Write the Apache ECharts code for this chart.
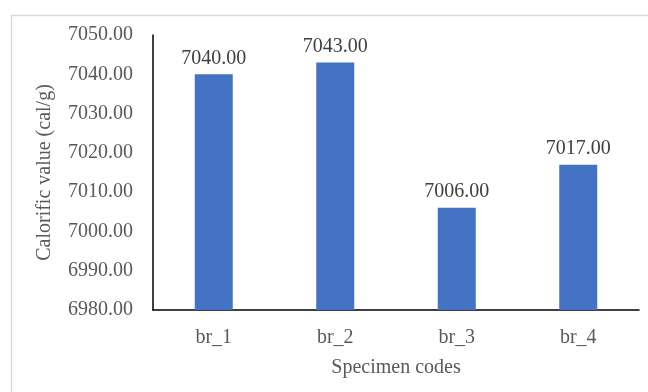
<!DOCTYPE html>
<html>
<head>
<meta charset="utf-8">
<script src="https://cdn.jsdelivr.net/npm/echarts@6/dist/echarts.min.js"></script>
<style>
  html, body { margin: 0; padding: 0; background: #fff; }
  #chart { width: 648px; height: 392px; }
</style>
</head>
<body>
<div id="chart"></div>
<script>
// Specimen codes and their calorific values (cal/g)
const categories = ['br_1', 'br_2', 'br_3', 'br_4'];
const calorificValues = [7040, 7043, 7006, 7017];
const yTicks = { min: 6980, max: 7050, step: 10 };

const serif = '"Liberation Serif", "Times New Roman", serif';
const chart = echarts.init(document.getElementById('chart'));

chart.setOption({
  animation: false,
  backgroundColor: '#ffffff',
  graphic: [{
    type: 'rect',
    shape: { x: 11.5, y: 15.5, width: 700, height: 400 },
    style: { fill: 'none', stroke: '#d9d9d9', lineWidth: 1.5 },
    silent: true
  }],
  grid: { left: 153, top: 35, right: 9, bottom: 82 },
  xAxis: {
    type: 'category',
    data: categories,
    name: 'Specimen codes',
    nameLocation: 'middle',
    nameGap: 48,
    nameTextStyle: { fontFamily: serif, fontSize: 20, color: '#595959' },
    axisLine: { lineStyle: { color: '#000', width: 1.5 } },
    axisTick: { show: false },
    axisLabel: { fontFamily: serif, fontSize: 20, color: '#595959', margin: 18 }
  },
  yAxis: {
    type: 'value',
    min: yTicks.min,
    max: yTicks.max,
    interval: yTicks.step,
    name: 'Calorific value (cal/g)',
    nameLocation: 'middle',
    nameGap: 98,
    nameTextStyle: { fontFamily: serif, fontSize: 20, color: '#595959' },
    axisLine: { show: true, lineStyle: { color: '#000', width: 1.5 } },
    axisTick: { show: false },
    splitLine: { show: false },
    axisLabel: {
      fontFamily: serif, fontSize: 20, color: '#595959', margin: 20,
      formatter: v => v.toFixed(2)
    }
  },
  series: [{
    type: 'bar',
    data: calorificValues,
    barWidth: 38,
    itemStyle: { color: '#4472C4' },
    label: {
      show: true,
      position: 'top',
      distance: 6,
      fontFamily: serif,
      fontSize: 20,
      color: '#404040',
      formatter: p => p.value.toFixed(2)
    }
  }]
});
</script>
</body>
</html>
